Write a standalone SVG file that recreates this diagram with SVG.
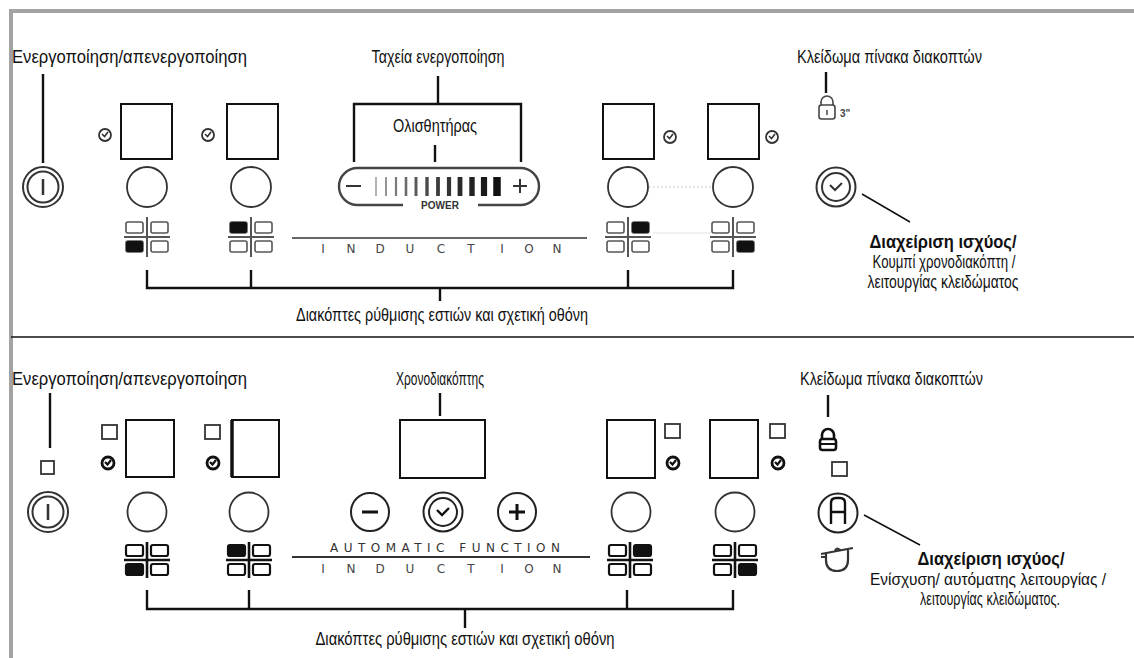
<svg xmlns="http://www.w3.org/2000/svg" width="1134" height="658" viewBox="0 0 1134 658">
<defs>
<style>
.lbl{font-family:"Liberation Sans","DejaVu Sans",sans-serif;font-size:18px;fill:#111}
.bold{font-weight:bold}
.ind{font-family:"DejaVu Sans","Liberation Sans",sans-serif;font-size:12px;fill:#444;text-anchor:middle}
.auto{font-family:"DejaVu Sans","Liberation Sans",sans-serif;font-size:12px;fill:#333}
.disp{fill:none;stroke:#111;stroke-width:2}
.knob{fill:none;stroke:#333;stroke-width:1.8}
.ln{stroke:#111;stroke-width:2.4;fill:none}
.thin{stroke:#111;stroke-width:1.5;fill:none}
.ic{fill:none;stroke:#444;stroke-width:1.6}
.led{fill:none;stroke:#333;stroke-width:1.8}
</style>
<g id="zone">
<line x1="-23" y1="0" x2="23" y2="0" stroke="#555" stroke-width="2"/>
<line x1="0" y1="-20" x2="0" y2="20" stroke="#555" stroke-width="2"/>
<rect x="-21" y="-15" width="17" height="11" rx="2" fill="none" stroke="#555" stroke-width="1.6"/>
<rect x="4" y="-15" width="17" height="11" rx="2" fill="none" stroke="#555" stroke-width="1.6"/>
<rect x="-21" y="4" width="17" height="11" rx="2" fill="none" stroke="#555" stroke-width="1.6"/>
<rect x="4" y="4" width="17" height="11" rx="2" fill="none" stroke="#555" stroke-width="1.6"/>
</g>
<g id="zoneb">
<line x1="-23" y1="0" x2="23" y2="0" stroke="#111" stroke-width="2.6"/>
<line x1="0" y1="-18" x2="0" y2="18" stroke="#111" stroke-width="2.6"/>
<rect x="-21" y="-15" width="17" height="11" rx="2" fill="none" stroke="#111" stroke-width="2.2"/>
<rect x="4" y="-15" width="17" height="11" rx="2" fill="none" stroke="#111" stroke-width="2.2"/>
<rect x="-21" y="4" width="17" height="11" rx="2" fill="none" stroke="#111" stroke-width="2.2"/>
<rect x="4" y="4" width="17" height="11" rx="2" fill="none" stroke="#111" stroke-width="2.2"/>
</g>
<g id="clk">
<circle r="6" fill="none" stroke="#333" stroke-width="1.8"/>
<path d="M-3,-1 L-0.5,1.5 L3,-3" fill="none" stroke="#333" stroke-width="1.6"/>
</g>
<g id="clkb">
<circle r="6" fill="none" stroke="#111" stroke-width="2.8"/>
<path d="M-3,-1 L-0.5,1.5 L3,-3" fill="none" stroke="#111" stroke-width="2.2"/>
</g>
<g id="pwr">
<circle r="20" fill="none" stroke="#333" stroke-width="2"/>
<circle r="15.5" fill="none" stroke="#333" stroke-width="2"/>
<line x1="0" y1="-8" x2="0" y2="8" stroke="#333" stroke-width="2.5"/>
</g>
</defs>
<rect width="1134" height="658" fill="#fff"/>

<g id="frame">
<line x1="9" y1="11" x2="1134" y2="11" stroke="#a3a3a3" stroke-width="4"/>
<line x1="11" y1="9" x2="11" y2="658" stroke="#a3a3a3" stroke-width="4"/>
<line x1="11" y1="337" x2="1134" y2="337" stroke="#111" stroke-width="1.5"/>
</g>

<!-- ===== TOP PANEL ===== -->
<g id="t-onoff">
<text class="lbl" x="12" y="63" textLength="235" lengthAdjust="spacingAndGlyphs">Ενεργοποίηση/απενεργοποίηση</text>
<use href="#pwr" x="43" y="187"/>
</g>
<g id="t-zone1">
<use href="#clk" x="105" y="135"/>
<rect class="disp" x="121" y="104" width="51" height="55"/>
<circle class="knob" cx="147" cy="187" r="20"/>
<use href="#zone" x="147" y="237"/>
<rect x="126" y="241" width="17" height="11" rx="2" fill="#111"/>
</g>
<g id="t-zone2">
<use href="#clk" x="208" y="135"/>
<rect class="disp" x="227" y="104" width="51" height="55"/>
<circle class="knob" cx="251" cy="187" r="20"/>
<use href="#zone" x="251" y="237"/>
<rect x="230" y="222" width="17" height="11" rx="2" fill="#111"/>
</g>
<g id="t-slider">
<text class="lbl" x="438" y="63" text-anchor="middle" textLength="133" lengthAdjust="spacingAndGlyphs">Ταχεία ενεργοποίηση</text>
<text class="lbl" x="435" y="132" text-anchor="middle" textLength="84" lengthAdjust="spacingAndGlyphs">Ολισθητήρας</text>
<path d="M403,205 H357.5 A18.5,18.5 0 0 1 357.5,168 H520.5 A18.5,18.5 0 0 1 520.5,205 H478" fill="none" stroke="#444" stroke-width="2.4"/>
<line x1="346" y1="186" x2="361" y2="186" stroke="#333" stroke-width="2"/>
<line x1="513" y1="186" x2="527" y2="186" stroke="#333" stroke-width="2"/>
<line x1="520" y1="179" x2="520" y2="193" stroke="#333" stroke-width="2"/>
<g stroke-linecap="butt">
<line x1="376" y1="177" x2="376" y2="196" stroke="#999" stroke-width="1.5"/>
<line x1="386" y1="177" x2="386" y2="196" stroke="#8a8a8a" stroke-width="1.8"/>
<line x1="396" y1="177" x2="396" y2="196" stroke="#7a7a7a" stroke-width="2.2"/>
<line x1="406" y1="177" x2="406" y2="196" stroke="#6a6a6a" stroke-width="2.6"/>
<line x1="416" y1="177" x2="416" y2="196" stroke="#5a5a5a" stroke-width="3"/>
<line x1="427" y1="177" x2="427" y2="196" stroke="#4a4a4a" stroke-width="3.4"/>
<line x1="438" y1="177" x2="438" y2="196" stroke="#3c3c3c" stroke-width="3.8"/>
<line x1="449" y1="177" x2="449" y2="196" stroke="#333" stroke-width="4.2"/>
<line x1="460" y1="177" x2="460" y2="196" stroke="#2a2a2a" stroke-width="4.8"/>
<line x1="472" y1="177" x2="472" y2="196" stroke="#222" stroke-width="5.4"/>
<line x1="484" y1="177" x2="484" y2="196" stroke="#1a1a1a" stroke-width="6.2"/>
<line x1="497" y1="177" x2="497" y2="196" stroke="#111" stroke-width="7.5"/>
</g>
<text x="440" y="209" text-anchor="middle" font-family="Liberation Sans,Arial,sans-serif" font-size="10" font-weight="bold" fill="#333">POWER</text>
</g>
<g id="t-induction">
<line x1="292" y1="238" x2="587" y2="238" stroke="#666" stroke-width="1.8"/>
<text class="ind" y="253"><tspan x="323">I</tspan><tspan x="351">N</tspan><tspan x="380">D</tspan><tspan x="410">U</tspan><tspan x="441">C</tspan><tspan x="471">T</tspan><tspan x="502">I</tspan><tspan x="529">O</tspan><tspan x="557">N</tspan></text>
</g>
<g id="t-zone3">
<rect class="disp" x="603" y="104" width="51" height="55"/>
<use href="#clk" x="670" y="137"/>
<circle class="knob" cx="628" cy="187" r="20"/>
<use href="#zone" x="628" y="237"/>
<rect x="632" y="222" width="17" height="11" rx="2" fill="#111"/>
</g>
<g id="t-zone4">
<rect class="disp" x="708" y="104" width="51" height="55"/>
<use href="#clk" x="772" y="137"/>
<circle class="knob" cx="733" cy="187" r="20"/>
<use href="#zone" x="733" y="237"/>
<rect x="737" y="241" width="17" height="11" rx="2" fill="#111"/>
</g>
<g id="t-lock">
<text class="lbl" x="797" y="63" textLength="185" lengthAdjust="spacingAndGlyphs">Κλείδωμα πίνακα διακοπτών</text>
<path d="M821,105 V102 A6,6 0 0 1 833,102 V105" class="ic"/>
<rect x="819" y="105" width="16" height="14" rx="2.5" class="ic"/>
<line x1="827" y1="110" x2="827" y2="115" stroke="#444" stroke-width="1.5"/>
<text x="840" y="117" font-family="Liberation Sans,Arial,sans-serif" font-size="10" font-weight="bold" fill="#444">3"</text>
</g>
<g id="t-power-mgmt">
<circle cx="836" cy="187" r="19.5" fill="none" stroke="#333" stroke-width="2"/>
<circle cx="836" cy="187" r="14" fill="none" stroke="#333" stroke-width="2"/>
<path d="M830,185 L835,190 L842,183" fill="none" stroke="#333" stroke-width="2"/>
<text class="lbl bold" x="943" y="248" text-anchor="middle" textLength="147" lengthAdjust="spacingAndGlyphs">Διαχείριση ισχύος/</text>
<text class="lbl" x="944" y="268" text-anchor="middle" textLength="143" lengthAdjust="spacingAndGlyphs">Κουμπί χρονοδιακόπτη /</text>
<text class="lbl" x="943" y="288" text-anchor="middle" textLength="151" lengthAdjust="spacingAndGlyphs">λειτουργίας κλειδώματος</text>
</g>
<g id="t-zones-label">
<text class="lbl" x="442" y="321" text-anchor="middle" textLength="292" lengthAdjust="spacingAndGlyphs">Διακόπτες ρύθμισης εστιών και σχετική οθόνη</text>
</g>

<!-- ===== BOTTOM PANEL ===== -->
<g id="b-onoff">
<text class="lbl" x="12" y="385" textLength="235" lengthAdjust="spacingAndGlyphs">Ενεργοποίηση/απενεργοποίηση</text>
<rect class="led" x="41" y="461" width="13" height="13"/>
<use href="#pwr" x="48" y="512"/>
</g>
<g id="b-zone1">
<rect class="led" x="102" y="425" width="15" height="14"/>
<use href="#clkb" x="108" y="463"/>
<rect class="disp" x="126" y="420" width="48" height="57"/>
<circle class="knob" cx="147" cy="512" r="19.5"/>
<use href="#zoneb" x="147" y="560"/>
<rect x="126" y="564" width="17" height="11" rx="2" fill="#111"/>
</g>
<g id="b-zone2">
<rect class="led" x="205" y="425" width="15" height="14"/>
<use href="#clkb" x="213" y="463"/>
<rect class="disp" x="232" y="420" width="47" height="57"/>
<line x1="232" y1="420" x2="232" y2="477" stroke="#111" stroke-width="3.5"/>
<circle class="knob" cx="249" cy="512" r="19.5"/>
<use href="#zoneb" x="249" y="560"/>
<rect x="228" y="545" width="17" height="11" rx="2" fill="#111"/>
</g>
<g id="b-timer">
<text class="lbl" x="440" y="385" text-anchor="middle" textLength="88" lengthAdjust="spacingAndGlyphs">Χρονοδιακόπτης</text>
<rect class="disp" x="400" y="420" width="85" height="58"/>
<circle cx="370" cy="512" r="19" fill="none" stroke="#222" stroke-width="2"/>
<line x1="362" y1="512" x2="378" y2="512" stroke="#111" stroke-width="3"/>
<circle cx="443" cy="512" r="19.5" fill="none" stroke="#222" stroke-width="2"/>
<circle cx="443" cy="512" r="14" fill="none" stroke="#222" stroke-width="2"/>
<path d="M437,510 L442,515 L449,508" fill="none" stroke="#111" stroke-width="2.4"/>
<circle cx="517" cy="512" r="19" fill="none" stroke="#222" stroke-width="2"/>
<line x1="509" y1="512" x2="525" y2="512" stroke="#111" stroke-width="3"/>
<line x1="517" y1="504" x2="517" y2="520" stroke="#111" stroke-width="3"/>
</g>
<g id="b-induction">
<text class="auto" x="330" y="552" textLength="230" lengthAdjust="spacing">AUTOMATIC FUNCTION</text>
<line x1="292" y1="557" x2="590" y2="557" stroke="#333" stroke-width="1.8"/>
<text class="ind" y="573"><tspan x="323">I</tspan><tspan x="351">N</tspan><tspan x="380">D</tspan><tspan x="410">U</tspan><tspan x="441">C</tspan><tspan x="471">T</tspan><tspan x="502">I</tspan><tspan x="529">O</tspan><tspan x="557">N</tspan></text>
</g>
<g id="b-zone3">
<rect class="disp" x="607" y="420" width="48" height="58"/>
<rect class="led" x="665" y="424" width="15" height="14"/>
<use href="#clkb" x="673" y="463"/>
<circle class="knob" cx="631" cy="512" r="19.5"/>
<use href="#zoneb" x="630" y="560"/>
<rect x="634" y="545" width="17" height="11" rx="2" fill="#111"/>
</g>
<g id="b-zone4">
<rect class="disp" x="710" y="420" width="48" height="58"/>
<rect class="led" x="770" y="424" width="15" height="14"/>
<use href="#clkb" x="778" y="463"/>
<circle class="knob" cx="735" cy="512" r="19.5"/>
<use href="#zoneb" x="735" y="560"/>
<rect x="739" y="564" width="17" height="11" rx="2" fill="#111"/>
</g>
<g id="b-lock">
<text class="lbl" x="800" y="385" textLength="183" lengthAdjust="spacingAndGlyphs">Κλείδωμα πίνακα διακοπτών</text>
<path d="M822,439 V435 A6,6 0 0 1 834,435 V439" fill="none" stroke="#111" stroke-width="2.6"/>
<rect x="820" y="439" width="16" height="11" rx="2.5" fill="none" stroke="#111" stroke-width="2.6"/>
<line x1="820" y1="444" x2="836" y2="444" stroke="#111" stroke-width="2"/>
<rect class="led" x="832" y="462" width="15" height="14"/>
</g>
<g id="b-power-mgmt">
<circle cx="838" cy="513" r="19.5" fill="none" stroke="#222" stroke-width="2"/>
<path d="M831,524 V503 Q831,498 836,498 H840 Q845,498 845,503 V524 M831,512 H845" fill="none" stroke="#111" stroke-width="2.4"/>
<path d="M826,553 V560 Q826,571 837,571 Q848,571 848,560 V550 M821,554 L853,548 M835,551 Q836,547 840,550 M826,557 H821" fill="none" stroke="#333" stroke-width="2.2"/>
<text class="lbl bold" x="991" y="565" text-anchor="middle" textLength="147" lengthAdjust="spacingAndGlyphs">Διαχείριση ισχύος/</text>
<text class="lbl" x="988" y="585" font-size="16" text-anchor="middle" textLength="236" lengthAdjust="spacingAndGlyphs" style="font-size:16px">Ενίσχυση/ αυτόματης λειτουργίας /</text>
<text class="lbl" x="990" y="605" text-anchor="middle" textLength="140" lengthAdjust="spacingAndGlyphs">λειτουργίας κλειδώματος.</text>
</g>
<g id="b-zones-label">
<text class="lbl" x="465" y="645" text-anchor="middle" textLength="299" lengthAdjust="spacingAndGlyphs">Διακόπτες ρύθμισης εστιών και σχετική οθόνη</text>
</g>

<!-- ===== CONNECTORS ===== -->
<g id="connectors">
<line class="ln" x1="43" y1="74" x2="43" y2="163"/>
<line class="ln" x1="438" y1="76" x2="438" y2="104"/>
<polyline class="ln" points="354,162 354,104 521,104 521,162"/>
<line class="ln" x1="435" y1="145" x2="435" y2="162"/>
<line class="ln" x1="826" y1="72" x2="826" y2="93"/>
<line class="thin" x1="862" y1="194" x2="910" y2="222"/>
<polyline class="ln" points="147,270 147,288 733,288 733,270"/>
<line class="ln" x1="251" y1="270" x2="251" y2="288"/>
<line class="ln" x1="628" y1="270" x2="628" y2="288"/>
<line class="ln" x1="440" y1="288" x2="440" y2="301"/>
<line x1="649" y1="187" x2="713" y2="187" stroke="#ccc" stroke-width="1" stroke-dasharray="2,2"/>
<line x1="653" y1="233" x2="711" y2="233" stroke="#e2e2e2" stroke-width="1"/>
<line class="ln" x1="50" y1="393" x2="50" y2="448"/>
<line class="ln" x1="440" y1="393" x2="440" y2="416"/>
<line class="ln" x1="828" y1="395" x2="828" y2="417"/>
<line class="thin" x1="864" y1="515" x2="920" y2="545"/>
<polyline class="ln" points="147,590 147,609 733,609 733,590"/>
<line class="ln" x1="249" y1="590" x2="249" y2="609"/>
<line class="ln" x1="627" y1="590" x2="627" y2="609"/>
<line class="ln" x1="465" y1="609" x2="465" y2="628"/>
</g>
</svg>
